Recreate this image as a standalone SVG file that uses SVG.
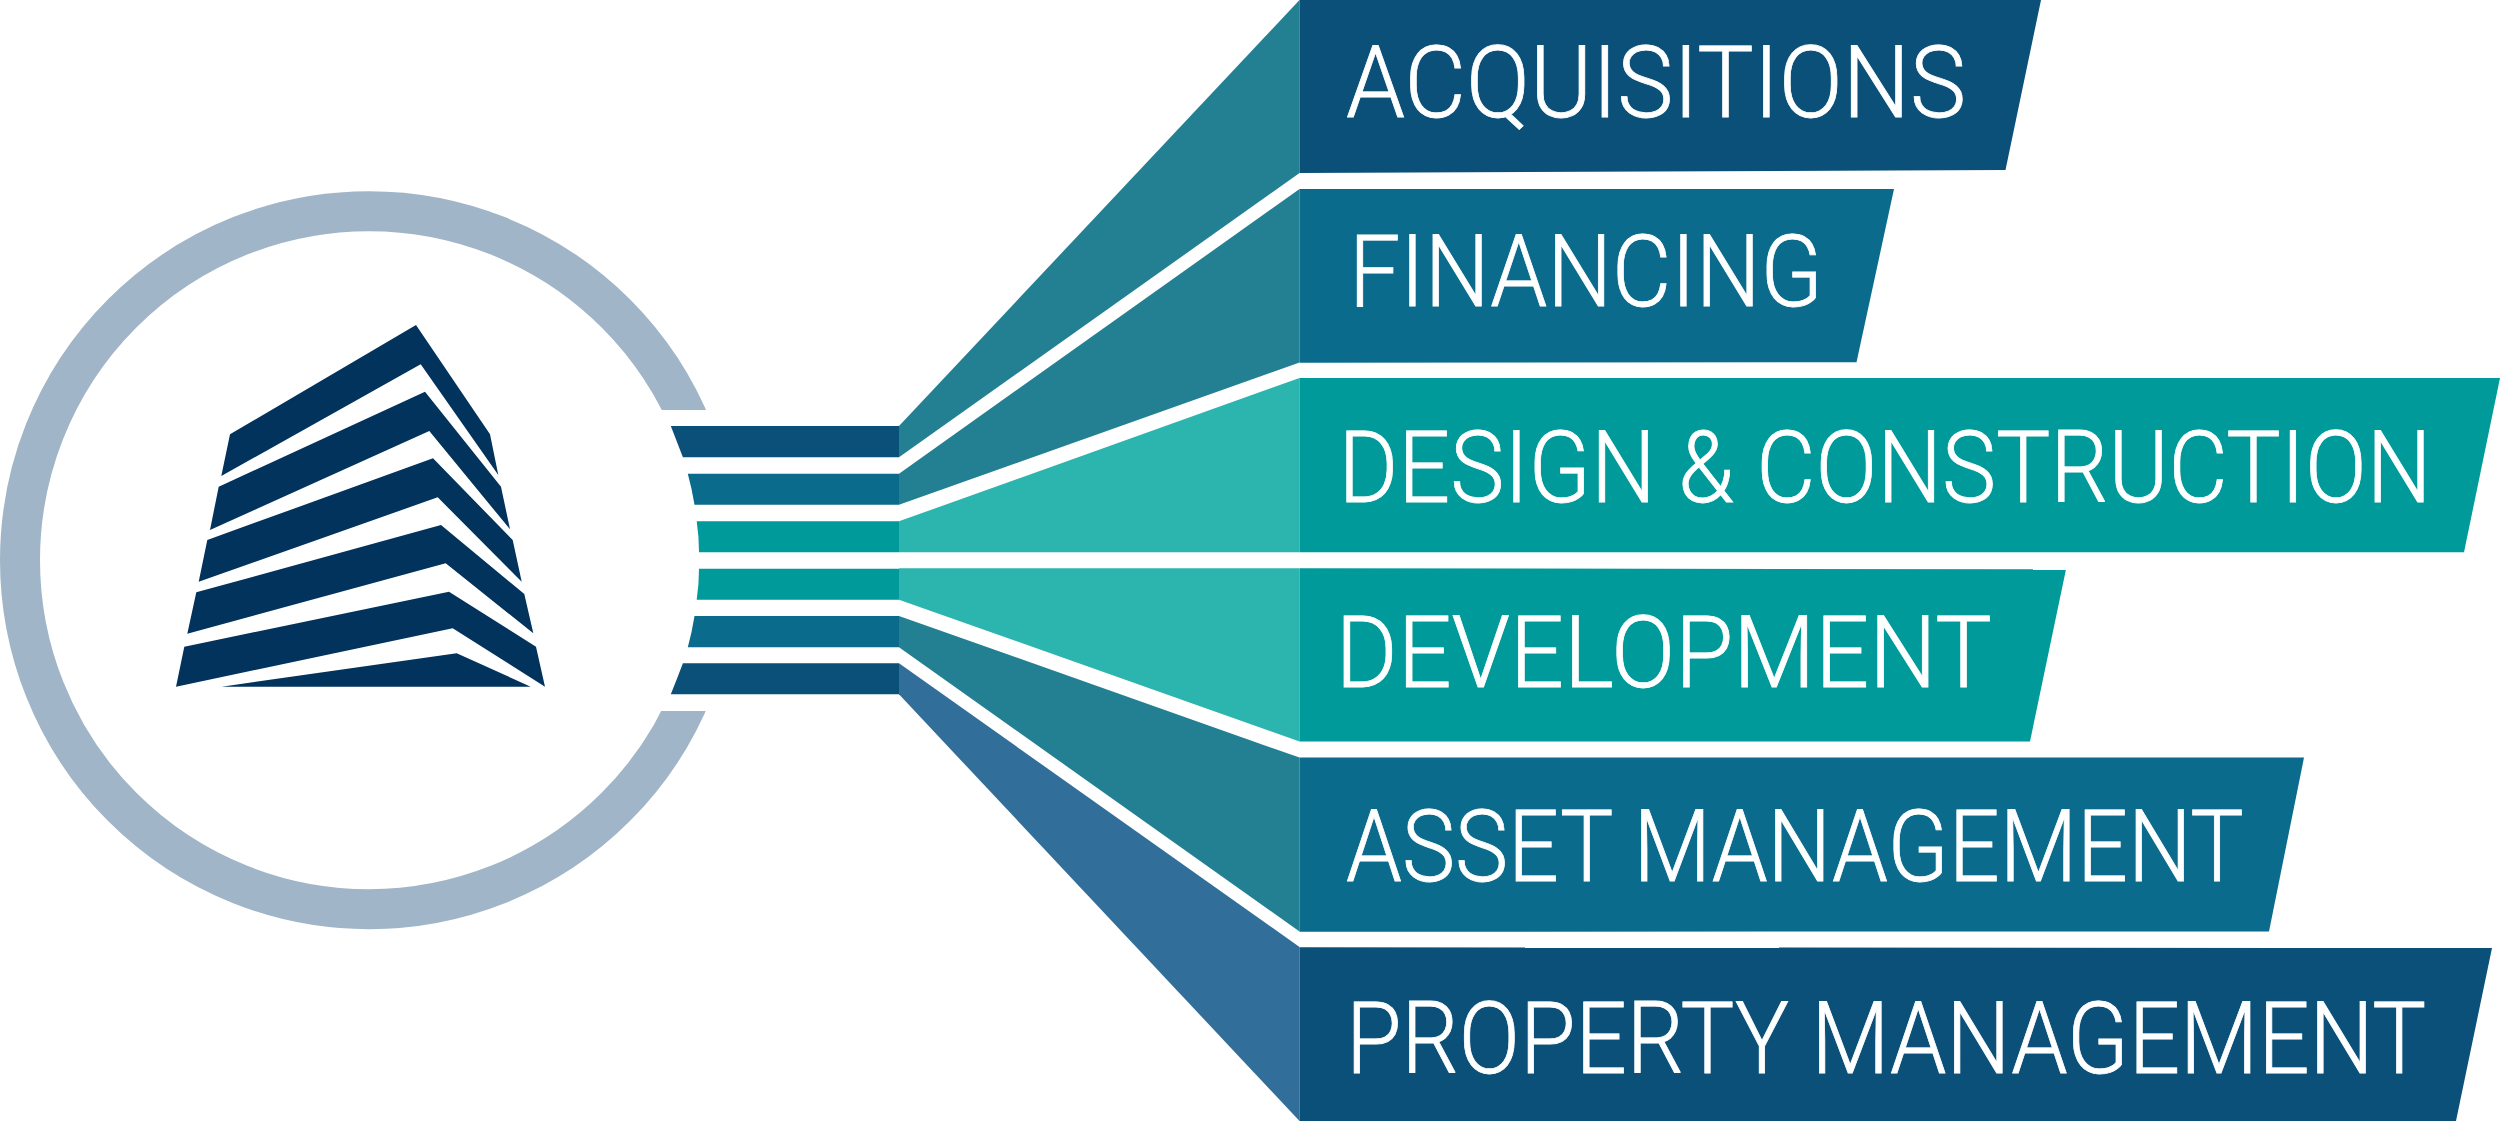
<svg xmlns="http://www.w3.org/2000/svg" width="2500" height="1121" viewBox="0 0 2500 1121">
<style>
.dark{fill:#0b5079}.mid{fill:#0b6b8c}.teal{fill:#009a9a}.wedge{fill:#238093}.light{fill:#2cb4ae}.blue{fill:#316e9a}.bld{fill:#02335c}
text{font-family:Roboto,"Liberation Sans",Arial,sans-serif;font-weight:300;font-size:99.5px;fill:#fff;stroke:#fff;stroke-width:.8px}
</style>
<defs><clipPath id="ringClip"><path d="M0 0H2500V410H600V711H2500V1121H0Z"/></clipPath></defs>
<rect width="2500" height="1121" fill="#fff"/>
<g id="hub">
<circle cx="369" cy="560.2" r="349" fill="none" stroke="#a0b5c7" stroke-width="40" clip-path="url(#ringClip)"/>
<g id="building" class="bld">
<polygon points="416,325 490,434.3 498.3,475 420.7,364.3 221.3,476 230,434.3"/>
<polygon points="425,391.7 501,486.7 510,529.3 429.3,431 210,530 218.7,486.7"/>
<polygon points="433,458.3 512.7,540 521.7,581.7 437.7,497.3 198.7,581.7 207.3,540"/>
<polygon points="441,525 524.3,594 533.3,633.3 445.7,563.3 187.3,633.7 196.3,592.3"/>
<polygon points="449,591.7 536,646.7 545,686.7 452.7,628.3 176,686.7 184.3,646.7"/>
<polygon points="456.7,653.3 530.7,686.7 221.7,686.7"/>
</g>
</g>
<g id="connectors">
<path class="dark" d="M670.8 426H899V457.3H682.9Q677 442 670.8 426Z"/>
<path class="mid" d="M687.8 473.7H899V504.7H694.5Q692 489 687.8 473.7Z"/>
<path class="teal" d="M696.7 521.3H899V552.3H699Q699 537 696.7 521.3Z"/>
<path class="teal" d="M699 568.7H899V599.7H696.7Q699 584 699 568.7Z"/>
<path class="mid" d="M694.5 616H899V647.3H687.8Q692 632 694.5 616Z"/>
<path class="dark" d="M682.9 663.3H899V694.3H670.8Q677 679 682.9 663.3Z"/>
<polygon class="wedge" points="899,426 1299.5,0 1299.5,173 899,457.3"/>
<polygon class="wedge" points="899,473.7 1299.5,189 1299.5,362.5 899,504.7"/>
<polygon class="light" points="899,521.3 1299.5,378 1299.5,552.3 899,552.3"/>
<polygon class="light" points="899,568.3 1299.5,568.3 1299.5,741.4 899,599.7"/>
<polygon class="wedge" points="899,616 1299.5,757.6 1299.5,931.5 899,647.3"/>
<polygon class="blue" points="899,663.3 1299.5,947 1299.5,1121 899,694.3"/>
</g>
<g id="acquisitions"><polygon class="dark" points="1299.5,0 2041,0 2005.5,170 1299.5,173"/><text transform="matrix(.86 0 0 1 1346 116.7)" textLength="721" lengthAdjust="spacingAndGlyphs">ACQUISITIONS</text></g>
<g id="financing"><polygon class="mid" points="1299.5,189 1894,189 1856.5,362.3 1299.5,362.7"/><text transform="matrix(.86 0 0 1 1349 305.7)" textLength="551" lengthAdjust="spacingAndGlyphs">FINANCING</text></g>
<g id="design"><polygon class="teal" points="1299.5,378 2500,378 2464,552.3 1299.5,552.3"/><text transform="matrix(.86 0 0 1 1338.6 502.3)" textLength="1271" lengthAdjust="spacingAndGlyphs">DESIGN &amp; CONSTRUCTION</text></g>
<g id="development"><polygon class="teal" points="1299.5,568.3 2066,569.3 2030,741.4 1299.5,741.4"/><text transform="matrix(.86 0 0 1 1335.6 686.7)" textLength="763" lengthAdjust="spacingAndGlyphs">DEVELOPMENT</text></g>
<g id="asset"><polygon class="mid" points="1299.5,757.6 2304,757.6 2269,931.5 1299.5,931.7"/><text transform="matrix(.86 0 0 1 1346 881)" textLength="1044" lengthAdjust="spacingAndGlyphs">ASSET MANAGEMENT</text></g>
<g id="property"><polygon class="dark" points="1299.5,947.3 2492,948 2456,1121 1299.5,1121"/><text transform="matrix(.86 0 0 1 1346 1072.7)" textLength="1256" lengthAdjust="spacingAndGlyphs">PROPERTY MANAGEMENT</text></g>
</svg>
